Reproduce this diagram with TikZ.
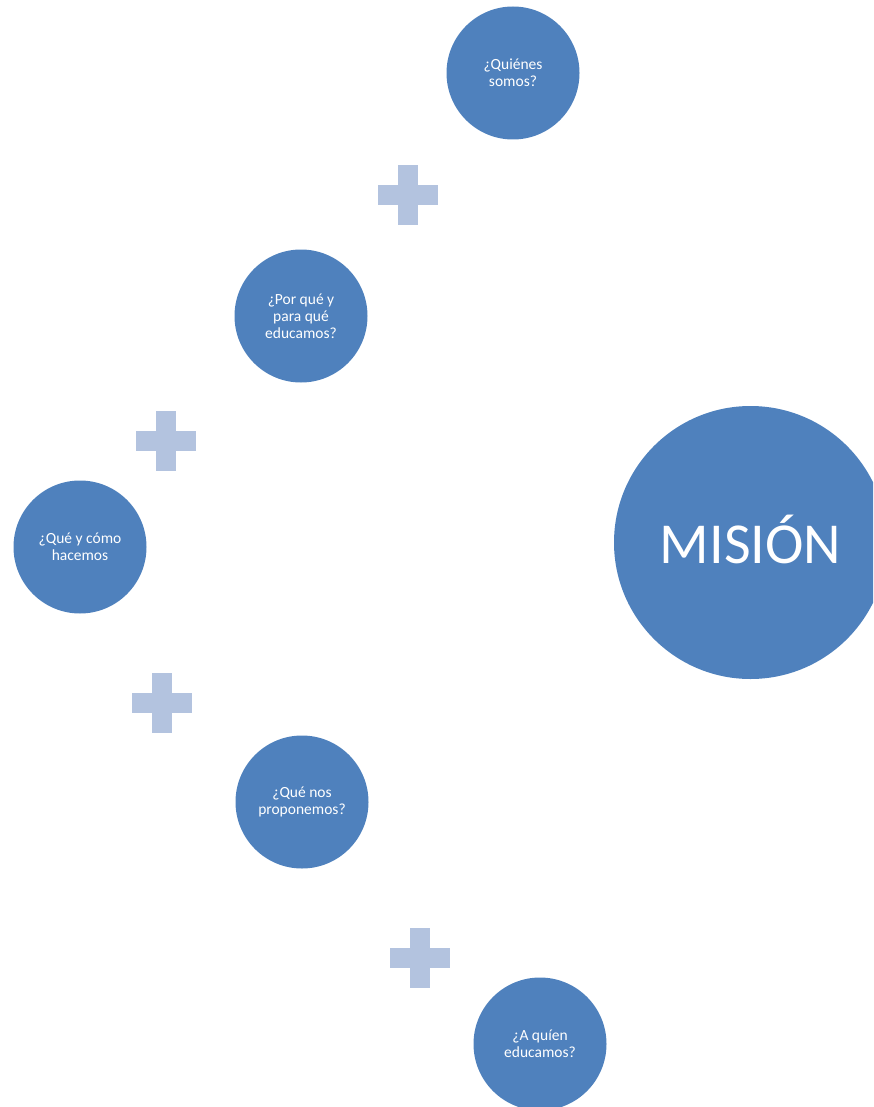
\documentclass[tikz,border=0pt]{standalone}
\usepackage{fontspec}
\setmainfont{Carlito}
\definecolor{bubbleblue}{HTML}{4F81BD}
\definecolor{plusblue}{HTML}{B3C3DF}

\begin{document}
\begin{tikzpicture}[x=1pt, y=-1pt,
        bubble/.style={circle, fill=bubbleblue, text=white, minimum size=133pt, inner sep=0pt, align=center, font=\fontsize{15.5}{17}\selectfont},
        mainbubble/.style={bubble, minimum size=273pt, font=\fontsize{58}{60}\selectfont},
        plus/.pic={
            \fill[plusblue] (-30,-10) rectangle (30,10);
            \fill[plusblue] (-10,-30) rectangle (10,30);
        }
    ]
        \useasboundingbox (0,0) rectangle (873,1107);
        \clip (0,0) rectangle (873,1107);

        \node[bubble] (quienes) at (513, 73) {¿Quiénes\\somos?};
        \node[bubble] (porque) at (301, 316) {¿Por qué y\\para qué\\educamos?};
        \node[bubble] (quecomo) at (80, 547) {¿Qué y cómo\\hacemos};
        \node[bubble] (proponemos) at (302, 802) {¿Qué nos\\proponemos?};
        \node[bubble] (aquien) at (540, 1044) {¿A quíen\\educamos?};

        \node[mainbubble] (mision) at (750.5, 542.5) {\raisebox{6pt}{MISIÓN}};

        % plus signs between the questions
        \pic at (408, 195) {plus};
        \pic at (166, 441) {plus};
        \pic at (162, 703) {plus};
        \pic at (420, 958) {plus};
    \end{tikzpicture}
\end{document}
